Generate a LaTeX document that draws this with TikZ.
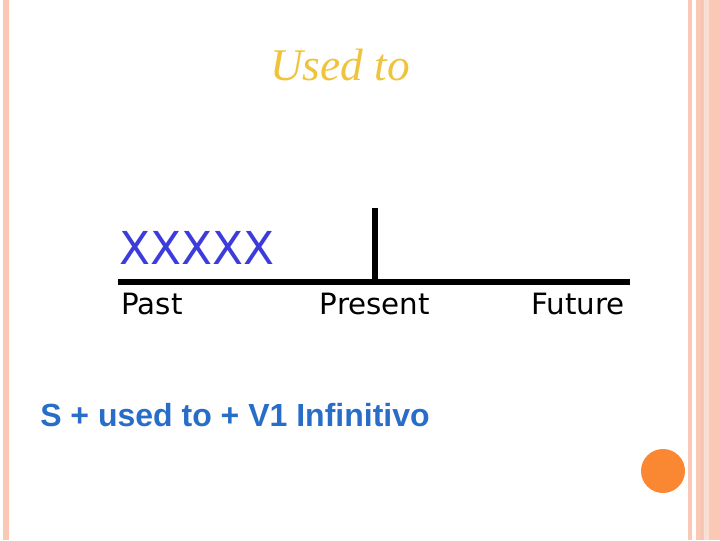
\documentclass[tikz,border=0pt]{standalone}
\usepackage{fontspec}
\setmainfont{Liberation Serif}
\setsansfont{DejaVu Sans}
\newfontfamily\boldsans{Liberation Sans}
\usetikzlibrary{positioning}
\definecolor{salmon}{RGB}{250,200,180}
\definecolor{salmonDark}{RGB}{235,160,130}
\definecolor{titleGold}{RGB}{240,195,60}
\definecolor{xBlue}{RGB}{60,60,220}
\definecolor{ruleBlue}{RGB}{40,110,200}
\definecolor{dotOrange}{RGB}{250,135,50}
\tikzstyle{timeLabel}=[font=\sffamily\fontsize{22}{24}\selectfont, inner sep=0pt]
\tikzstyle{timeLine}=[line width=5pt]

\begin{document}
\begin{tikzpicture}[x=0.75pt,y=-0.75pt]
    \useasboundingbox (0,0) rectangle (720,540);
    % page frame
    \fill[salmon] (3,0) rectangle (9,540);
    \fill[salmon] (688,0) rectangle (692,540);
    \fill[salmon] (696,0) rectangle (720,540);
    \fill[salmonDark!60] (701,0) rectangle (703,540);
    \fill[salmonDark!35] (704,0) rectangle (709,540);

    \node[font=\itshape\fontsize{34}{36}\selectfont, text=titleGold] (title) at (340,65) {Used to};

    % timeline
    \coordinate (start) at (118,282);
    \coordinate (finish) at (630,282);
    \coordinate (now) at (375,282);
    \coordinate (nowTop) at (375,208);
    \draw[timeLine] (start) -- (finish);
    \draw[timeLine] (now) -- (nowTop);
    \node[font=\sffamily\fontsize{34}{36}\selectfont, text=xBlue, inner sep=0pt] (habit) at (197,248) {XXXXX};

    \node[timeLabel] (past) at (152,304) {Past};
    \node[timeLabel] (present) at (375,304) {Present};
    \node[timeLabel] (future) at (578,304) {Future};

    \node[font=\boldsans\bfseries\fontsize{24}{26}\selectfont, text=ruleBlue, inner sep=0pt, anchor=west] (rule) at (40,415) {S + used to + V1 Infinitivo};

    \fill[dotOrange] (663,471) circle (16.5pt);
\end{tikzpicture}
\end{document}
